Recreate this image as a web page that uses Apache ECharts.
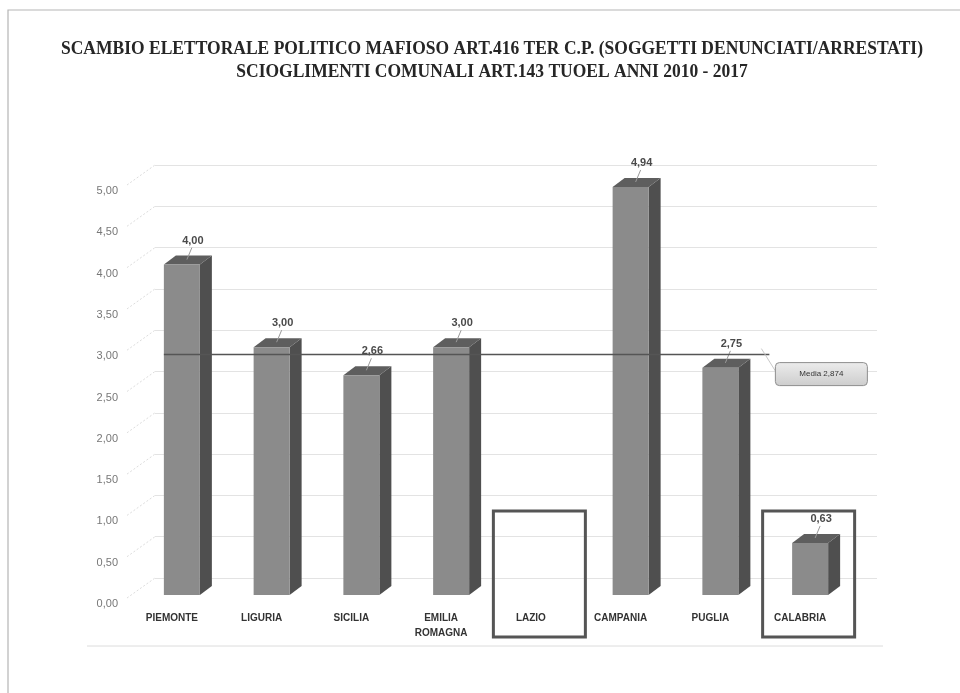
<!DOCTYPE html>
<html>
<head>
<meta charset="utf-8">
<script src="https://cdn.jsdelivr.net/npm/echarts@6/dist/echarts.min.js"></script>
<style>html,body{margin:0;padding:0;background:#fff}#c{width:960px;height:693px}</style>
</head>
<body>
<div id="c"></div>
<script>
const titleLine1 = 'SCAMBIO ELETTORALE POLITICO MAFIOSO ART.416 TER C.P. (SOGGETTI DENUNCIATI/ARRESTATI)';
const titleLine2 = 'SCIOGLIMENTI COMUNALI ART.143 TUOEL ANNI 2010 - 2017';
const categories = ['PIEMONTE', 'LIGURIA', 'SICILIA', 'EMILIA ROMAGNA', 'LAZIO', 'CAMPANIA', 'PUGLIA', 'CALABRIA'];
const values = [4.00, 3.00, 2.66, 3.00, null, 4.94, 2.75, 0.63];
const meanValue = 2.874;
const meanLabel = 'Media 2,874';
const highlighted = ['LAZIO', 'CALABRIA'];
const yTicks = [0, 0.5, 1, 1.5, 2, 2.5, 3, 3.5, 4, 4.5, 5];

const fmt = v => v.toFixed(2).replace('.', ',');

// title scale (condensed serif)
const ctx = document.createElement('canvas').getContext('2d');
const titleFont = 'bold 19px "Liberation Serif"';
ctx.font = titleFont;
const tScale = 862 / ctx.measureText(titleLine1).width;

const chart = echarts.init(document.getElementById('c'), null, {renderer: 'canvas'});

const barData = categories.map((c, i) => [i, values[i]]);
const boxData = categories.map((c, i) => highlighted.includes(c) ? [i, 0] : null).filter(d => d);

function renderBar(params, api) {
  const v = api.value(1);
  if (v === null || v === undefined || isNaN(v)) return;
  const c = api.coord([api.value(0), v]);
  const y0 = api.coord([api.value(0), 0])[1];
  const w = 36, dx = 12, dy = 9;
  const x0 = c[0] + 10 - w / 2;
  const top = c[1];
  return {
    type: 'group',
    children: [
      {type: 'polygon', shape: {points: [[x0 + w, top], [x0 + w + dx, top - dy], [x0 + w + dx, y0 - dy], [x0 + w, y0]]},
        style: {fill: '#4f4f4f'}},
      {type: 'polygon', shape: {points: [[x0, top], [x0 + dx, top - dy], [x0 + w + dx, top - dy], [x0 + w, top]]},
        style: {fill: '#5e5e5e'}},
      {type: 'rect', shape: {x: x0, y: top, width: w, height: y0 - top},
        style: {fill: '#8b8b8b'}},
      {type: 'line', shape: {x1: c[0] + 20, y1: top - 17, x2: c[0] + 15, y2: top - 5},
        style: {stroke: '#9a9a9a', lineWidth: 1}},
      {type: 'text', x: c[0] + 21, y: top - 24,
        style: {text: fmt(v), font: 'bold 11px "Liberation Sans"', fill: '#4a4a4a', align: 'center', verticalAlign: 'middle'}}
    ]
  };
}

function renderMean(params, api) {
  const y = api.coord([0, meanValue])[1] - 3;
  const xs = api.coord([0, meanValue])[0] - 8;
  const xe = api.coord([6, meanValue])[0] + 59;
  const bx = xe + 6, by = y + 8;
  return {
    type: 'group',
    children: [
      {type: 'line', shape: {x1: xs, y1: y, x2: xe, y2: y}, style: {stroke: '#555', lineWidth: 1.5}},
      {type: 'line', shape: {x1: xe - 8, y1: y - 6, x2: bx + 1, y2: by + 10}, style: {stroke: '#c8c8c8', lineWidth: 1}},
      {type: 'rect', shape: {x: bx, y: by, width: 92, height: 23, r: 4},
        style: {fill: new echarts.graphic.LinearGradient(0, 0, 0, 1, [{offset: 0, color: '#ececec'}, {offset: 1, color: '#cdcdcd'}]),
          stroke: '#8e8e8e', lineWidth: 1}},
      {type: 'text', x: bx + 46, y: by + 11.5,
        style: {text: meanLabel, font: '8px "Liberation Sans"', fill: '#333', align: 'center', verticalAlign: 'middle'}}
    ]
  };
}

function renderBox(params, api) {
  const p = api.coord([api.value(0), 0]);
  const cx = p[0] + 8.5;
  return {
    type: 'rect',
    shape: {x: cx - 46, y: p[1] - 84, width: 92, height: 126},
    style: {fill: null, stroke: '#555', lineWidth: 3}
  };
}

function renderSide(params, api) {
  const p = api.coord([0, api.value(0)]);
  const lx = params.coordSys.x;
  return {
    type: 'line',
    shape: {x1: lx - 28, y1: p[1] + 20, x2: lx, y2: p[1]},
    style: {stroke: '#dddddd', lineWidth: 1, lineDash: [2, 2]}
  };
}

const option = {
  animation: false,
  backgroundColor: '#fff',
  graphic: [
    {type: 'rect', shape: {x: 8, y: 10, width: 1000, height: 720}, style: {fill: null, stroke: '#b5b5b5', lineWidth: 1.2}, z: 0},
    {type: 'line', shape: {x1: 87, y1: 646, x2: 883, y2: 646}, style: {stroke: '#dcdcdc', lineWidth: 1}},
    {type: 'text', x: 492, y: 49.5, scaleX: tScale,
      style: {text: titleLine1, font: titleFont, fill: '#262626', align: 'center', verticalAlign: 'middle'}},
    {type: 'text', x: 492, y: 72, scaleX: tScale,
      style: {text: titleLine2, font: titleFont, fill: '#262626', align: 'center', verticalAlign: 'middle'}}
  ],
  grid: [
    {left: 127, right: 115, top: 182, bottom: 98},   // bars (front)
    {left: 155, right: 83, top: 165, bottom: 115},   // back wall
    {left: 127, right: 115, top: 191, bottom: 89}    // value labels
  ],
  xAxis: [
    {type: 'category', gridIndex: 0, data: categories,
      axisLine: {show: false}, axisTick: {show: false},
      axisLabel: {margin: 16, interval: 0, fontFamily: 'Liberation Sans', fontWeight: 'bold', fontSize: 10, color: '#333', lineHeight: 15,
        formatter: v => v.replace(' ', '\n')}},
    {type: 'category', gridIndex: 1, data: categories, show: false},
    {type: 'category', gridIndex: 2, data: categories, show: false}
  ],
  yAxis: [
    {type: 'value', gridIndex: 0, min: 0, max: 5, interval: 0.5, show: false},
    {type: 'value', gridIndex: 1, min: 0, max: 5, interval: 0.5,
      axisLine: {show: false}, axisTick: {show: false}, axisLabel: {show: false},
      splitLine: {lineStyle: {color: '#e3e3e3', width: 1}}},
    {type: 'value', gridIndex: 2, min: 0, max: 5, interval: 0.5,
      axisLine: {show: false}, axisTick: {show: false}, splitLine: {show: false},
      axisLabel: {margin: 9, fontFamily: 'Liberation Sans', fontSize: 11, color: '#777', formatter: fmt}}
  ],
  series: [
    {type: 'custom', xAxisIndex: 1, yAxisIndex: 1, data: yTicks.map(t => [t]), renderItem: renderSide, z: 1, silent: true},
    {type: 'custom', xAxisIndex: 0, yAxisIndex: 0, data: barData, renderItem: renderBar, z: 3,
      encode: {x: 0, y: 1}},
    {type: 'custom', xAxisIndex: 0, yAxisIndex: 0, data: [[0, meanValue]], renderItem: renderMean, z: 5},
    {type: 'custom', xAxisIndex: 0, yAxisIndex: 0, data: boxData, renderItem: renderBox, z: 6}
  ]
};
chart.setOption(option);
</script>
</body>
</html>
